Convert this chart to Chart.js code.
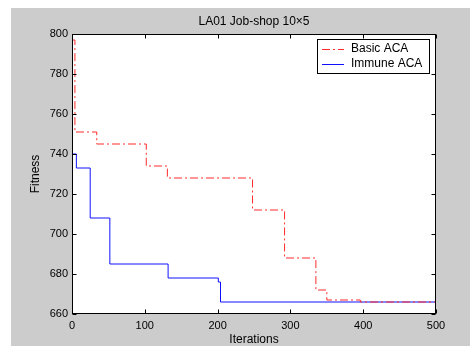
<!DOCTYPE html>
<html><head><meta charset="utf-8">
<script src="https://cdn.jsdelivr.net/npm/chart.js@4"></script>
<style>html,body{margin:0;padding:0;background:#fff;overflow:hidden}#wrap{width:470px;height:347px;position:relative}</style>
</head><body><div id="wrap"><canvas id="c" width="470" height="347"></canvas></div>
<script>
const chartTitle = 'LA01 Job-shop 10×5';
const xLabel = 'Iterations';
const yLabel = 'Fitness';
const seriesNames = ['Basic ACA', 'Immune ACA'];
const basicIter = [0, 4, 34, 102, 131, 248, 292, 335, 350, 396, 500];
const basicFit  = [797, 751, 745, 734, 728, 712, 688, 672, 667, 666, 666];
const immuneIter = [0, 6, 25, 52, 132, 201, 204, 500];
const immuneFit  = [740, 733, 708, 685, 678, 676, 666, 666];
const xTicks = [0, 100, 200, 300, 400, 500];
const yTicks = [660, 680, 700, 720, 740, 760, 780, 800];

const FONT = '"Liberation Sans", Arial, sans-serif';
const RED = '#ff2a2a', BLUE = '#1010ff';
const DASHDOT = [8, 3, 2, 3];

const toPts = (xs, ys) => xs.map((x, i) => ({x: x, y: ys[i]}));

const framePlugin = {
  id: 'frame',
  beforeDraw(chart) {
    const ctx = chart.ctx, a = chart.chartArea;
    ctx.save();
    ctx.fillStyle = '#fff';
    ctx.fillRect(0, 0, chart.width, chart.height);
    ctx.fillStyle = '#cccccc';
    ctx.fillRect(11, 8, 459, 338);
    ctx.fillStyle = '#fff';
    ctx.fillRect(a.left, a.top, a.right - a.left, a.bottom - a.top);
    ctx.fillStyle = '#000';
    ctx.font = '12px ' + FONT;
    ctx.textAlign = 'center';
    ctx.textBaseline = 'middle';
    ctx.fillText(chartTitle, (a.left + a.right) / 2, 21.5);
    ctx.restore();
  },
  afterDraw(chart) {
    const ctx = chart.ctx, a = chart.chartArea;
    const xs = chart.scales.x, ys = chart.scales.y;
    ctx.save();
    ctx.strokeStyle = '#000';
    ctx.lineWidth = 1;
    const L = Math.round(a.left) + 0.5, R = Math.round(a.right) - 0.5;
    const T = Math.round(a.top) + 0.5, B = Math.round(a.bottom) - 0.5;
    ctx.beginPath();
    xs.ticks.forEach(t => {
      const px = Math.round(xs.getPixelForValue(t.value)) + 0.5;
      ctx.moveTo(px, B); ctx.lineTo(px, B - 4);
      ctx.moveTo(px, T); ctx.lineTo(px, T + 4);
    });
    ys.ticks.forEach(t => {
      const py = Math.round(ys.getPixelForValue(t.value)) + 0.5;
      ctx.moveTo(L, py); ctx.lineTo(L + 4, py);
      ctx.moveTo(R, py); ctx.lineTo(R - 4, py);
    });
    ctx.stroke();
    ctx.strokeRect(L, T, R - L, B - T);

    // legend
    const lx = 317.5, ly = 39.5, lw = 112, lh = 34;
    ctx.fillStyle = '#fff';
    ctx.fillRect(lx, ly, lw, lh);
    ctx.strokeRect(lx, ly, lw, lh);
    const rows = [49.5, 64.5];
    chart.data.datasets.forEach((ds, i) => {
      ctx.beginPath();
      ctx.strokeStyle = ds.borderColor;
      ctx.setLineDash(ds.borderDash || []);
      ctx.moveTo(322, rows[i]); ctx.lineTo(344, rows[i]);
      ctx.stroke();
      ctx.setLineDash([]);
      ctx.fillStyle = '#000';
      ctx.font = '12px ' + FONT;
      ctx.textAlign = 'left';
      ctx.textBaseline = 'middle';
      ctx.fillText(ds.label, 351, rows[i] - 1);
    });
    ctx.restore();
  }
};

new Chart(document.getElementById('c'), {
  type: 'line',
  data: {
    datasets: [
      {label: seriesNames[0], data: toPts(basicIter, basicFit), borderColor: RED, borderWidth: 1,
       borderDash: DASHDOT, stepped: true, pointRadius: 0, fill: false},
      {label: seriesNames[1], data: toPts(immuneIter, immuneFit), borderColor: BLUE, borderWidth: 1,
       stepped: true, pointRadius: 0, fill: false}
    ]
  },
  options: {
    responsive: false,
    animation: false,
    events: [],
    layout: {padding: {top: 34, right: 34, left: 0, bottom: 0}},
    plugins: {legend: {display: false}, title: {display: false}, tooltip: {enabled: false}},
    scales: {
      x: {
        type: 'linear', min: 0, max: 500,
        afterBuildTicks: s => { s.ticks = xTicks.map(v => ({value: v})); },
        afterFit: s => { s.height = 33; },
        grid: {display: false, drawTicks: false},
        border: {display: false},
        ticks: {color: '#000', font: {family: FONT, size: 11}, padding: 5, maxRotation: 0, autoSkip: false},
        title: {display: true, text: xLabel, color: '#000', font: {family: FONT, size: 12}, padding: {top: 0, bottom: 0}}
      },
      y: {
        type: 'linear', min: 660, max: 800,
        afterBuildTicks: s => { s.ticks = yTicks.map(v => ({value: v})); },
        afterFit: s => { s.width = 72; },
        grid: {display: false, drawTicks: false},
        border: {display: false},
        ticks: {color: '#000', font: {family: FONT, size: 11}, padding: 4, autoSkip: false},
        title: {display: true, text: yLabel, color: '#000', font: {family: FONT, size: 12}, padding: {top: 28, bottom: 0}}
      }
    }
  },
  plugins: [framePlugin]
});
</script>
</body></html>
